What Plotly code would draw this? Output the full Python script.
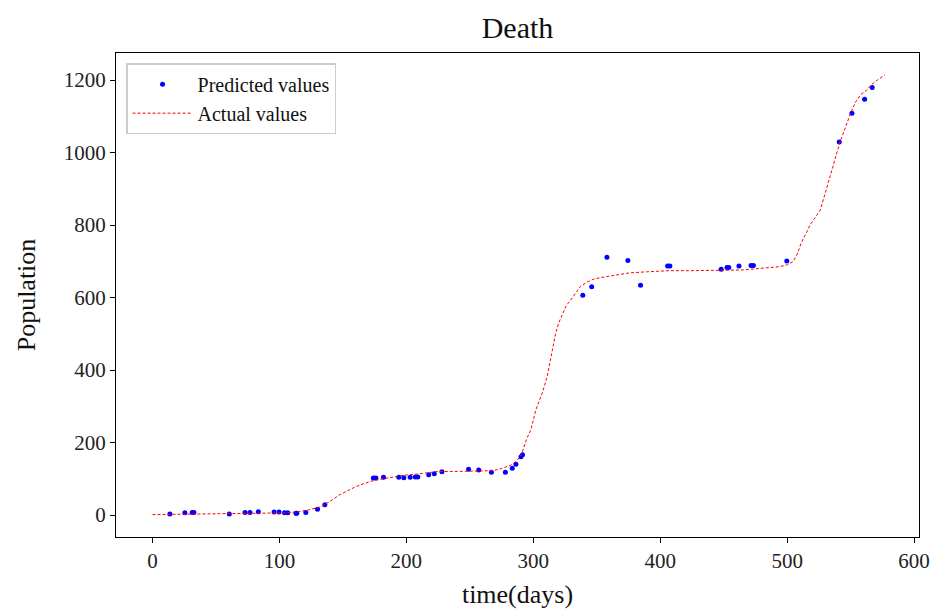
import plotly.graph_objects as go

# Predicted values (blue dots)
pred_days = [13.7, 25.5, 31.3, 32.6, 60.5, 72.9, 76.8, 83.4, 95.8, 99.7, 104, 106.6,
             113, 113.7, 120.8, 130, 135.8, 174, 176, 182, 194, 198, 203, 207, 209,
             217.6, 222, 228, 249, 257, 267, 278, 283.4, 286.3, 290.3, 291.5, 339,
             346, 358, 374.5, 384.5, 405.8, 407.6, 448, 452.6, 454, 462, 471.5, 473.4,
             499.7, 541, 551, 561, 567]
pred_vals = [3, 6, 7, 7, 3, 7, 7, 9, 8, 8, 6, 6, 5, 5, 7, 16, 28, 102, 102, 104, 104,
             103, 104, 105, 105, 111, 114, 119, 126, 124, 118, 118, 129, 140, 161, 166,
             606, 630, 711, 702, 634, 687, 687, 678, 683, 683, 687, 688, 688, 701, 1029,
             1108, 1147, 1179]

# Actual values (red dashed line)
act_days = [0, 20, 40, 60, 80, 100, 106, 115, 123, 132, 140, 147, 153, 160, 167, 173,
            180, 186, 193, 199, 206, 212, 219, 225, 235, 244, 255, 265, 272, 277, 282,
            286, 289, 291, 293, 295, 298, 302, 307, 311, 314.5, 317.6, 320, 323, 326,
            329.5, 333, 337, 342, 347, 353, 360, 368, 376, 390, 407, 425, 447, 465, 481,
            494, 500, 504.5, 508, 511, 515, 518, 522, 526, 530, 535, 541.6, 546, 550,
            554, 558, 562, 566, 571, 577]
act_vals = [1, 2, 2, 2, 3, 4, 6, 9, 14, 22, 38, 55, 66, 78, 87, 94, 99, 103, 106, 110,
            112, 115, 117, 120, 120, 121, 121, 122, 125, 130, 137, 147, 158, 170, 190,
            212, 234, 290, 336, 382, 446, 501, 530, 556, 578, 593, 612, 630, 642, 650,
            655, 659, 663, 668, 671, 674, 674, 674, 676, 681, 685, 690, 699, 720, 750,
            778, 800, 820, 841, 888, 950, 1029, 1070, 1109, 1140, 1160, 1170, 1186,
            1200, 1214]

x_ticks = [0, 100, 200, 300, 400, 500, 600]
y_ticks = [0, 200, 400, 600, 800, 1000, 1200]

FONT = "Liberation Serif"

fig = go.Figure()
fig.add_trace(go.Scatter(
    x=pred_days, y=pred_vals, mode="markers", name="Predicted values",
    marker=dict(color="blue", size=5),
))
fig.add_trace(go.Scatter(
    x=act_days, y=act_vals, mode="lines", name="Actual values",
    line=dict(color="red", width=1, dash="3px,2px"),
))

axis_common = dict(
    showgrid=False, zeroline=False, showline=True, linecolor="black", linewidth=1.3,
    mirror=True, ticks="outside", ticklen=5, tickwidth=1.2, tickcolor="black",
    tickfont=dict(family=FONT, size=21, color="#222"), automargin=False,
)

fig.update_layout(
    width=935, height=610,
    margin=dict(l=116, r=16, t=53, b=73),
    plot_bgcolor="white", paper_bgcolor="white",
    title=dict(text="Death", x=0.5, xref="paper", xanchor="center", y=0.955,
               yanchor="middle", font=dict(family=FONT, size=30, color="#111"),
               automargin=False),
    xaxis=dict(range=[-28.75, 603.85], tickvals=x_ticks,
               title=dict(text="time(days)", font=dict(family=FONT, size=26, color="#111"),
                          standoff=12),
               **axis_common),
    yaxis=dict(range=[-60.7, 1274.5], tickvals=y_ticks,
               title=dict(text="Population", font=dict(family=FONT, size=26, color="#111"),
                          standoff=20),
               **axis_common),
    legend=dict(x=0.0125, y=0.979, xanchor="left", yanchor="top",
                bgcolor="rgba(255,255,255,0.8)", bordercolor="#cccccc", borderwidth=1.5,
                font=dict(family=FONT, size=20, color="#111"), itemwidth=60,
                tracegroupgap=0),
    showlegend=True,
)

fig.write_html("out.html")
